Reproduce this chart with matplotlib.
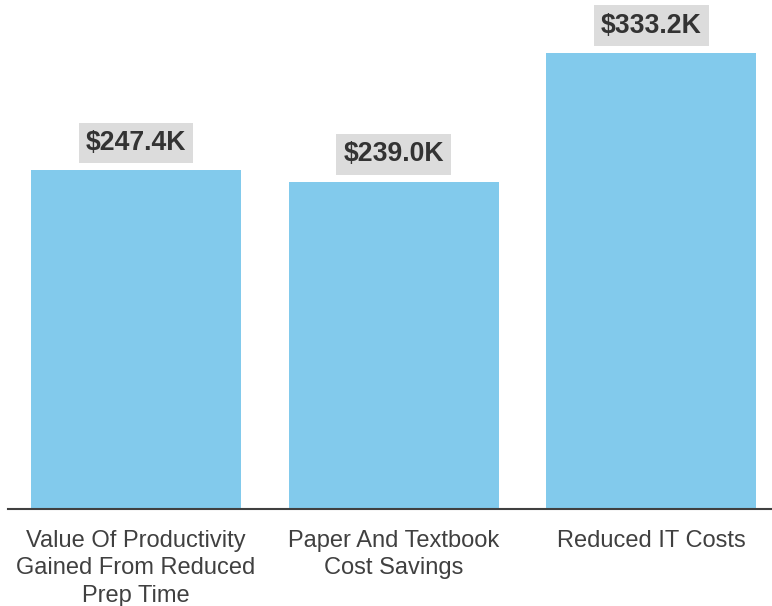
import matplotlib
matplotlib.use("Agg")
import matplotlib.pyplot as plt

categories = ["Value Of Productivity\nGained From Reduced\nPrep Time",
              "Paper And Textbook\nCost Savings",
              "Reduced IT Costs"]
values = [247.4, 239.0, 333.2]
labels = ["$247.4K", "$239.0K", "$333.2K"]

plt.rcParams['font.family'] = ['Liberation Sans', 'DejaVu Sans']

W, H = 772, 606
fig = plt.figure(figsize=(W/100, H/100), dpi=100)
ax = fig.add_axes([8/W, (H-509)/H, (W-8)/W, 509/H])

x = list(range(len(categories)))
ax.bar(x, values, width=0.815, color="#82CAEC", zorder=2)
ax.set_xlim(-0.497, 2.468)
ax.set_ylim(0, 372)

for xi, v, lab in zip(x, values, labels):
    ax.annotate(lab, (xi, v), xytext=(0, 10.5), textcoords="offset points",
                ha="center", va="bottom", fontsize=19.2, fontweight="bold",
                color="#333333",
                bbox=dict(boxstyle="square,pad=0.27", fc="#DCDCDC", ec="none"))

ax.set_xticks(x)
ax.set_xticklabels(categories, fontsize=17, color="#404040")
for t in ax.get_xticklabels():
    t.set_linespacing(1.32)
ax.tick_params(axis="x", length=0, pad=15)
ax.set_yticks([])
for s in ["top", "right", "left"]:
    ax.spines[s].set_visible(False)
ax.spines["bottom"].set_color("#404040")
ax.spines["bottom"].set_linewidth(1.5)

fig.savefig("out.png", dpi=100)
